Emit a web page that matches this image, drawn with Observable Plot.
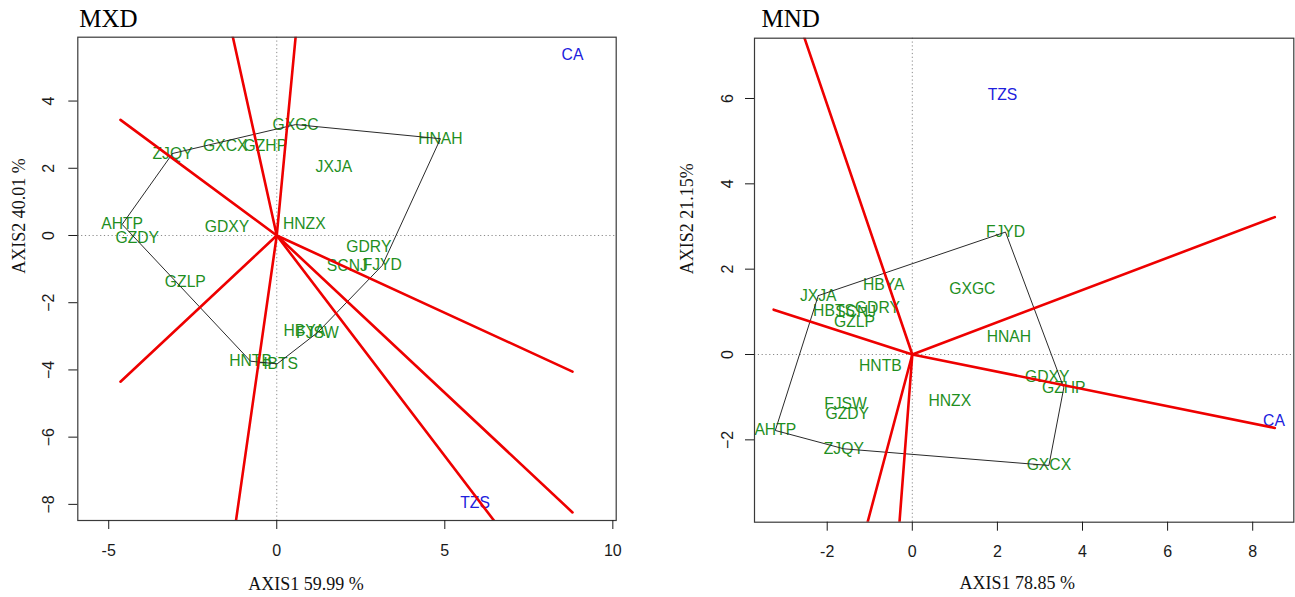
<!DOCTYPE html>
<html>
<head>
<meta charset="utf-8">
<script src="https://cdn.jsdelivr.net/npm/d3@7"></script>
<script src="https://cdn.jsdelivr.net/npm/@observablehq/plot@0.6"></script>
<style>
  html, body { margin: 0; padding: 0; background: #fff; }
  #wrap { display: flex; width: 1295px; height: 597px; }
  #wrap svg { display: block; overflow: visible; flex: none; }
</style>
</head>
<body>
<div id="wrap"></div>
<script>
// ---- MXD: genotype scores on the first two axes ----
const mxdNames = ["GXGC","HNAH","ZJQY","GXCX","GZHP","JXJA","HNZX","AHTP","GZDY","GDXY","GDRY","SCNJ","FJYD","GZLP","HBYA","FJSW","HNTB","HBTS"];
const mxdAxis1 = [0.56, 4.87, -3.10, -1.53, -0.34, 1.70, 0.82, -4.60, -4.15, -1.48, 2.74, 2.10, 3.14, -2.72, 0.82, 1.21, -0.78, 0.01];
const mxdAxis2 = [3.30, 2.88, 2.44, 2.65, 2.65, 2.03, 0.35, 0.33, -0.07, 0.25, -0.35, -0.91, -0.89, -1.39, -2.83, -2.89, -3.74, -3.82];
// environments
const mxdEnvNames = ["CA", "TZS"];
const mxdEnvAxis1 = [8.80, 5.90];
const mxdEnvAxis2 = [5.36, -7.96];
// vertex genotypes of the polygon, in drawing order
const mxdHull = ["ZJQY","GXGC","HNAH","FJYD","FJSW","HBTS","HNTB","AHTP"];
// far ends of the rays drawn from the origin (perpendicular to polygon sides)
const mxdRayEndX = [-1.77, 0.76, -4.65, -4.65, -1.43, 7.62, 8.80, 8.80];
const mxdRayEndY = [8.00, 8.00, 3.44, -4.35, -10.0, -10.0, -8.24, -4.05];
const mxdXTicks = [-5, 0, 5, 10];
const mxdYTicks = [-8, -6, -4, -2, 0, 2, 4];

// ---- MND ----
const mndNames = ["FJYD","HBYA","GXGC","JXJA","HBTS","SCNJ","GDRY","GZLP","HNAH","HNTB","GDXY","GZHP","HNZX","FJSW","GZDY","AHTP","ZJQY","GXCX"];
const mndAxis1 = [2.19, -0.67, 1.41, -2.21, -1.84, -1.33, -0.82, -1.36, 2.27, -0.75, 3.17, 3.56, 0.88, -1.57, -1.53, -3.22, -1.61, 3.21];
const mndAxis2 = [2.87, 1.64, 1.54, 1.38, 1.03, 0.99, 1.09, 0.76, 0.41, -0.26, -0.53, -0.78, -1.08, -1.16, -1.39, -1.78, -2.21, -2.60];
const mndEnvNames = ["TZS", "CA"];
const mndEnvAxis1 = [2.12, 8.50];
const mndEnvAxis2 = [6.09, -1.55];
const mndHull = ["JXJA","FJYD","GZHP","GXCX","ZJQY","AHTP"];
const mndRayEndX = [-2.87, 8.52, -3.26, 8.52, -1.15, -0.33];
const mndRayEndY = [8.40, 3.22, 1.05, -1.72, -4.30, -4.30];
const mndXTicks = [-2, 0, 2, 4, 6, 8];
const mndYTicks = [-2, 0, 2, 4, 6];

const SANS = "Liberation Sans, Arial, Helvetica, sans-serif";
const SERIF = "Liberation Serif, Times New Roman, serif";

function biplot(o) {
  const genos = o.names.map((name, i) => ({name, x: o.a1[i], y: o.a2[i]}));
  const envs = o.envNames.map((name, i) => ({name, x: o.e1[i], y: o.e2[i]}));
  const byName = new Map(genos.map(d => [d.name, d]));
  const hull = [...o.hull, o.hull[0]].map(n => byName.get(n));
  const rays = o.rayX.map((x, i) => ({x1: 0, y1: 0, x2: x, y2: o.rayY[i]}));

  return Plot.plot({
    width: o.width,
    height: 597,
    marginLeft: o.margin[0],
    marginRight: o.margin[1],
    marginTop: o.margin[2],
    marginBottom: o.margin[3],
    style: {fontFamily: SANS, color: "#1a1a1a", background: "transparent", overflow: "visible"},
    x: {domain: o.xDomain},
    y: {domain: o.yDomain},
    marks: [
      Plot.ruleY([0], {stroke: "#8a8a8a", strokeWidth: 1, strokeDasharray: "1.2,2.6"}),
      Plot.ruleX([0], {stroke: "#8a8a8a", strokeWidth: 1, strokeDasharray: "1.2,2.6"}),
      Plot.text(genos, {x: "x", y: "y", text: "name", fill: "#1f8f1f", fontSize: 15.7, fontFamily: SANS}),
      Plot.text(envs, {x: "x", y: "y", text: "name", fill: "#2020dd", fontSize: 15.7, fontFamily: SANS}),
      Plot.line(hull, {x: "x", y: "y", stroke: "#2a2a2a", strokeWidth: 1, curve: "linear"}),
      Plot.link(rays, {x1: "x1", y1: "y1", x2: "x2", y2: "y2", stroke: "#ee0000", strokeWidth: 2.6, strokeLinecap: "round", clip: true}),
      Plot.frame({stroke: "#3a3a3a", strokeWidth: 1.2}),
      Plot.axisX({ticks: o.xTicks, tickSize: 9, tickPadding: o.xPad, fontSize: 16, label: null, tickFormat: d => d}),
      Plot.axisY({ticks: o.yTicks, tickSize: 9, tickPadding: o.yPad, tickRotate: -90, fontSize: 16, label: null, tickFormat: d => String(d).replace("-", "\u2212")}),
      // panel title
      Plot.text([o.title], {frameAnchor: "top-left", text: d => d, textAnchor: "start", lineAnchor: "bottom",
        dx: o.titleDx, dy: o.titleDy, fontFamily: SERIF, fontSize: 25, fill: "#000"}),
      // axis titles
      Plot.text([o.xlab], {frameAnchor: "bottom", text: d => d, lineAnchor: "bottom",
        dx: o.xlabDx, dy: o.xlabDy, fontFamily: SERIF, fontSize: 18, fill: "#111"}),
      Plot.text([o.ylab], {frameAnchor: "left", text: d => d, lineAnchor: "middle", rotate: -90,
        dx: o.ylabDx, dy: o.ylabDy, fontFamily: SERIF, fontSize: 18, fill: "#111"})
    ]
  });
}

const wrap = document.getElementById("wrap");

wrap.appendChild(biplot({
  title: "MXD", xlab: "AXIS1 59.99 %", ylab: "AXIS2 40.01 %",
  names: mxdNames, a1: mxdAxis1, a2: mxdAxis2,
  envNames: mxdEnvNames, e1: mxdEnvAxis1, e2: mxdEnvAxis2,
  hull: mxdHull, rayX: mxdRayEndX, rayY: mxdRayEndY,
  xTicks: mxdXTicks, yTicks: mxdYTicks,
  width: 647, margin: [77.3, 31.3, 36.7, 77],
  xDomain: [-5.92, 10.10], yDomain: [-8.48, 5.90],
  xPad: 15, yPad: 15,
  titleDx: 1.5, titleDy: -10,
  xlabDx: -41, xlabDy: 69,
  ylabDx: -59, ylabDy: -5
}));

wrap.appendChild(biplot({
  title: "MND", xlab: "AXIS1 78.85 %", ylab: "AXIS2 21.15%",
  names: mndNames, a1: mndAxis1, a2: mndAxis2,
  envNames: mndEnvNames, e1: mndEnvAxis1, e2: mndEnvAxis2,
  hull: mndHull, rayX: mndRayEndX, rayY: mndRayEndY,
  xTicks: mndXTicks, yTicks: mndYTicks,
  width: 648, margin: [107, 1.7, 37.7, 75.3],
  xDomain: [-3.709, 8.966], yDomain: [-3.930, 7.413],
  xPad: 14, yPad: 13,
  titleDx: 7, titleDy: -11,
  xlabDx: -7, xlabDy: 67,
  ylabDx: -67, ylabDy: -6
}));
</script>
</body>
</html>
